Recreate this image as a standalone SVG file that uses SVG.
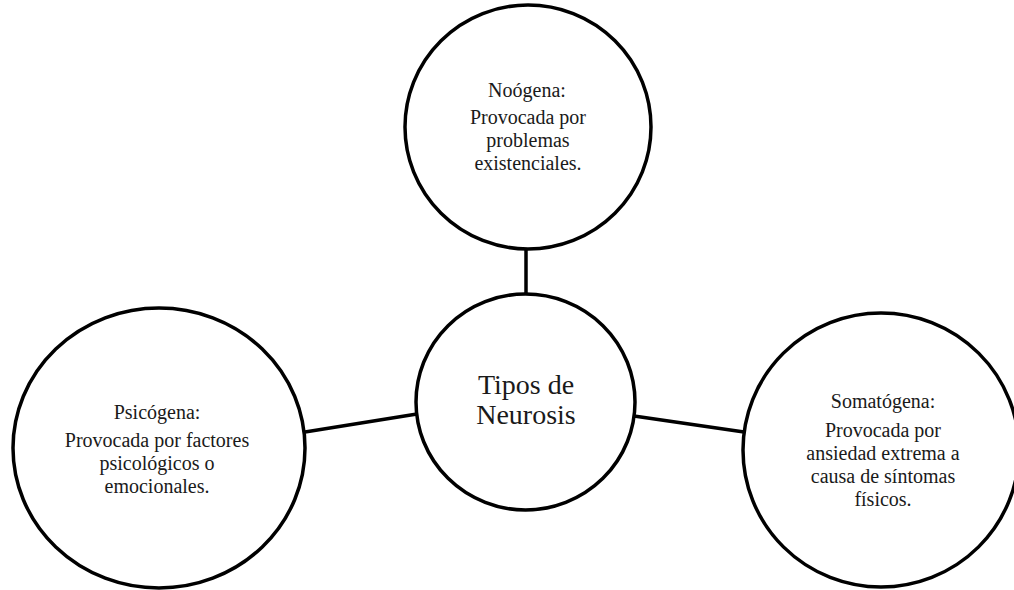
<svg xmlns="http://www.w3.org/2000/svg" width="1014" height="590" viewBox="0 0 1014 590">
<style>
.node{fill:#fff;stroke:#000;stroke-width:3.5}
.conn{stroke:#000;stroke-width:3.5;fill:none}
text{font-family:"Liberation Serif","Times New Roman",serif;fill:#1a1a1a;text-anchor:middle}
.t{font-size:20px}
.c{font-size:28px}
</style>
<rect width="1014" height="590" fill="#fff"/>
<g id="connectors">
<line class="conn" x1="526" y1="249" x2="526" y2="294"/>
<line class="conn" x1="305" y1="432" x2="417" y2="414"/>
<line class="conn" x1="634" y1="416" x2="744" y2="432"/>
</g>
<g id="noogena">
<ellipse class="node" cx="528" cy="127" rx="123" ry="122"/>
<text class="t" x="527" y="97">Noógena:</text>
<text class="t" x="528" y="124">Provocada por</text>
<text class="t" x="528" y="147">problemas</text>
<text class="t" x="528" y="170">existenciales.</text>
</g>
<g id="centro">
<ellipse class="node" cx="525.5" cy="402" rx="109.5" ry="108"/>
<text class="c" x="526" y="394">Tipos de</text>
<text class="c" x="526" y="424">Neurosis</text>
</g>
<g id="psicogena">
<ellipse class="node" cx="159" cy="448" rx="146" ry="140"/>
<text class="t" x="157" y="419">Psicógena:</text>
<text class="t" x="157" y="447">Provocada por factores</text>
<text class="t" x="157" y="470">psicológicos o</text>
<text class="t" x="157" y="493">emocionales.</text>
</g>
<g id="somatogena">
<ellipse class="node" cx="881" cy="450" rx="138" ry="137"/>
<text class="t" x="883" y="408">Somatógena:</text>
<text class="t" x="883" y="437">Provocada por</text>
<text class="t" x="883" y="460">ansiedad extrema  a</text>
<text class="t" x="883" y="483">causa de síntomas</text>
<text class="t" x="883" y="506">físicos.</text>
</g>
</svg>
